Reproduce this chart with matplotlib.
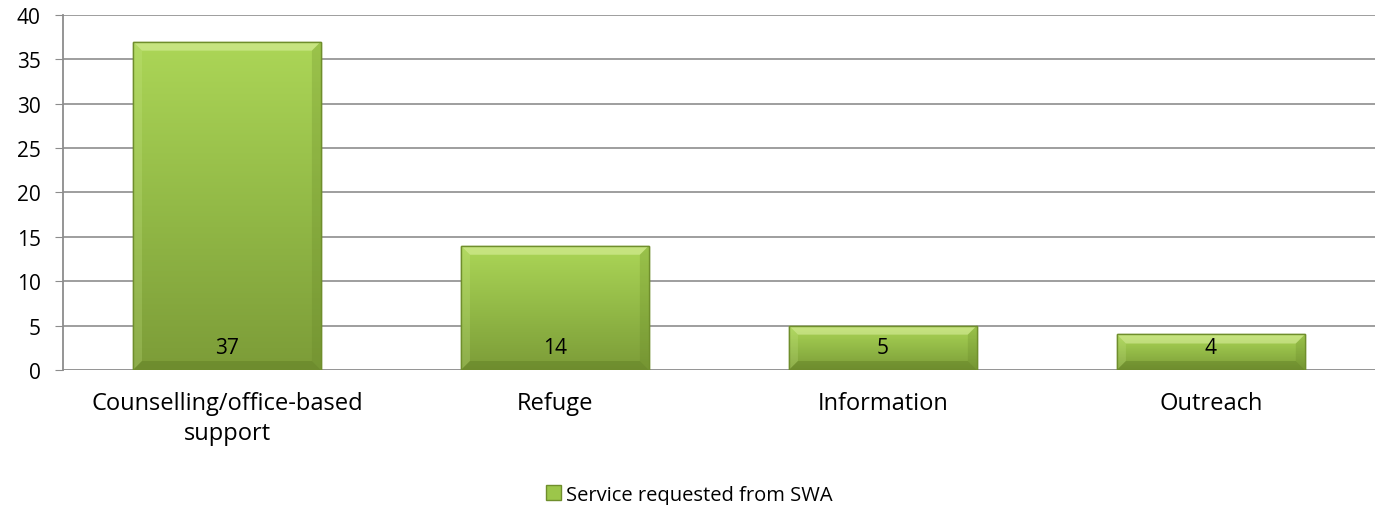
import matplotlib.pyplot as plt
import numpy as np
from matplotlib.colors import LinearSegmentedColormap
from matplotlib.patches import Polygon

plt.rcParams['font.family'] = ['Open Sans', 'DejaVu Sans']

categories = ["Counselling/office-based\nsupport", "Refuge", "Information", "Outreach"]
values = [37, 14, 5, 4]
series_name = "Service requested from SWA"

fig = plt.figure(figsize=(13.78, 5.06), dpi=100)
ax = fig.add_axes([0.0457, 0.2668, 0.952, 0.7016])

x = np.arange(len(categories))
ax.set_xlim(-0.5, len(categories) - 0.5)
ax.set_ylim(0, 40)

width = 0.573
bars = ax.bar(x, values, width, color="#98c048", edgecolor="#6f8e2c", linewidth=1.0,
              label=series_name, zorder=3)

# vertical green gradient inside each bar
grad = LinearSegmentedColormap.from_list("grn", ["#7c9c38", "#93ba47", "#acd657"])
g = np.linspace(0, 1, 256).reshape(-1, 1)


def bevel(b, d=9):
    # light/dark trapezoids along the bar edges, d pixels deep
    x0, y0 = b.get_x(), b.get_y()
    w, h = b.get_width(), b.get_height()
    t = ax.transData
    ax0, ay0 = t.transform((x0, y0))
    ax1, ay1 = t.transform((x0 + w, y0 + h))
    inv = t.inverted()
    sides = [
        ([(ax0, ay1), (ax1, ay1), (ax1 - d, ay1 - d), (ax0 + d, ay1 - d)], "#eaf8b4", 0.45),
        ([(ax0, ay0), (ax0, ay1), (ax0 + d, ay1 - d), (ax0 + d, ay0 + d)], "#cdea8e", 0.22),
        ([(ax1, ay0), (ax1, ay1), (ax1 - d, ay1 - d), (ax1 - d, ay0 + d)], "#5f7e22", 0.22),
        ([(ax0, ay0), (ax1, ay0), (ax1 - d, ay0 + d), (ax0 + d, ay0 + d)], "#4f6a18", 0.3),
    ]
    for pts, col, a in sides:
        ax.add_patch(Polygon(inv.transform(pts), closed=True, facecolor=col,
                             alpha=a, lw=0, zorder=3.2))


for b in bars:
    x0, y0 = b.get_x(), b.get_y()
    w, h = b.get_width(), b.get_height()
    im = ax.imshow(g, cmap=grad, aspect="auto", origin="lower",
                   extent=[x0, x0 + w, y0, y0 + h], zorder=3.1)
    im.set_clip_path(b)
    bevel(b)
    ax.add_patch(Polygon(b.get_path().vertices, closed=True, transform=b.get_transform(),
                         fill=False, edgecolor="#6f8e2c", lw=1.0, zorder=3.3))

for xi, v in zip(x, values):
    ax.annotate(str(v), (xi, 0), xytext=(0, 16), textcoords="offset points",
                ha="center", va="center", fontsize=15, color="black", zorder=4)

ax.set_xlim(-0.5, len(categories) - 0.5)
ax.set_ylim(0, 40)
ax.set_yticks(range(0, 41, 5))
ax.set_xticks(x)
ax.set_xticklabels(categories, fontsize=17, linespacing=1.35)
ax.tick_params(axis="y", labelsize=15, length=6, color="#8c8c8c", pad=10)
ax.tick_params(axis="x", length=0, pad=15)
ax.yaxis.grid(True, color="#969696", linewidth=1.3, zorder=0)
ax.set_axisbelow(True)
for s in ["top", "right", "bottom"]:
    ax.spines[s].set_visible(False)
ax.spines["left"].set_color("#8c8c8c")
ax.spines["left"].set_linewidth(1.3)
ax.axhline(0, color="#969696", linewidth=1.3, zorder=1)

leg = fig.legend(handles=[bars], labels=[series_name], loc="lower center",
                 bbox_to_anchor=(0.5, -0.035), frameon=False, fontsize=14.5,
                 handlelength=0.75, handleheight=0.75, handletextpad=0.25)
for p in leg.get_patches():
    p.set_facecolor("#9cc64a")
    p.set_edgecolor("#6f8e2c")

fig.savefig("out.png", dpi=100)
